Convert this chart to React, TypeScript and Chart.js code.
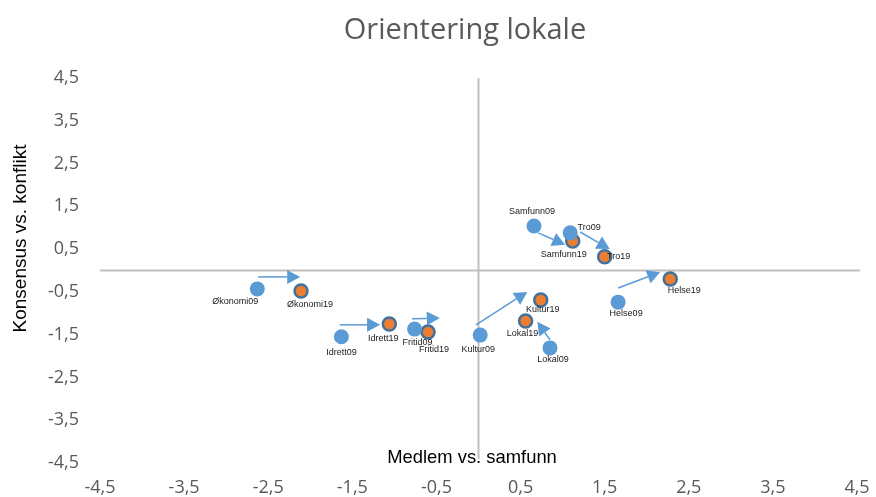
import React, { useEffect, useRef } from 'react';
import { Chart, registerables } from 'chart.js';

Chart.register(...registerables);

const TITLE = 'Orientering lokale';
const X_TITLE = 'Medlem vs. samfunn';
const Y_TITLE = 'Konsensus vs. konflikt';
const TICKS = [-4.5, -3.5, -2.5, -1.5, -0.5, 0.5, 1.5, 2.5, 3.5, 4.5];

const LABELS_09 = ['Økonomi09', 'Idrett09', 'Fritid09', 'Kultur09', 'Lokal09', 'Samfunn09', 'Tro09', 'Helse09'];
const X_09 = [-2.63, -1.63, -0.76, 0.02, 0.85, 0.66, 1.09, 1.66];
const Y_09 = [-0.43, -1.55, -1.37, -1.51, -1.81, 1.04, 0.88, -0.74];

const LABELS_19 = ['Økonomi19', 'Idrett19', 'Fritid19', 'Kultur19', 'Lokal19', 'Samfunn19', 'Tro19', 'Helse19'];
const X_19 = [-2.11, -1.06, -0.6, 0.74, 0.56, 1.12, 1.5, 2.28];
const Y_19 = [-0.48, -1.25, -1.44, -0.69, -1.18, 0.69, 0.32, -0.2];

// arrows (data coordinates): start and end
const ARROW_X0 = [-2.62, -1.65, -0.79, -0.03, 0.85, 0.71, 1.21, 1.66];
const ARROW_Y0 = [-0.15, -1.27, -1.13, -1.27, -1.62, 0.88, 0.9, -0.41];
const ARROW_X1 = [-2.12, -1.17, -0.46, 0.58, 0.7, 1.03, 1.56, 2.16];
const ARROW_Y1 = [-0.15, -1.27, -1.11, -0.5, -1.2, 0.6, 0.5, -0.04];

// label offsets in pixels relative to the marker (styling)
const LABEL_OFF_09: [number, number][] = [[-22, 13], [0, 16], [3, 13], [-2, 14], [3, 12], [-2, -14], [19, -5], [8, 11]];
const LABEL_OFF_19: [number, number][] = [[9, 13], [-6, 15], [6, 17], [2, 9], [-3, 13], [-9, 14], [14, 0], [14, 11]];

const BLUE = '#5B9BD5';
const ORANGE = '#ED7D31';
const DARKBLUE = '#41719C';

const fmt = (v: number) => v.toFixed(1).replace('.', ',');

const overlay = {
  id: 'overlay',
  beforeDatasetsDraw(chart: any) {
    const { ctx, chartArea, scales } = chart;
    const x0 = scales.x.getPixelForValue(0);
    const y0 = scales.y.getPixelForValue(0);
    ctx.save();
    ctx.strokeStyle = '#BFBFBF';
    ctx.lineWidth = 2;
    ctx.beginPath();
    ctx.moveTo(chartArea.left, y0);
    ctx.lineTo(chartArea.right + 3, y0);
    ctx.moveTo(x0, chartArea.top);
    ctx.lineTo(x0, chartArea.bottom - 4);
    ctx.stroke();
    ctx.restore();
  },
  afterDatasetsDraw(chart: any) {
    const { ctx, scales } = chart;
    const xs = scales.x, ys = scales.y;
    ctx.save();
    ctx.strokeStyle = BLUE;
    ctx.fillStyle = BLUE;
    ctx.lineWidth = 1.5;
    for (let i = 0; i < ARROW_X0.length; i++) {
      const ax = xs.getPixelForValue(ARROW_X0[i]);
      const ay = ys.getPixelForValue(ARROW_Y0[i]);
      const bx = xs.getPixelForValue(ARROW_X1[i]);
      const by = ys.getPixelForValue(ARROW_Y1[i]);
      const ang = Math.atan2(by - ay, bx - ax);
      const L = 13, W = 7;
      const baseX = bx - L * Math.cos(ang);
      const baseY = by - L * Math.sin(ang);
      ctx.beginPath();
      ctx.moveTo(ax, ay);
      ctx.lineTo(baseX, baseY);
      ctx.stroke();
      ctx.beginPath();
      ctx.moveTo(bx, by);
      ctx.lineTo(baseX + W * Math.sin(ang), baseY - W * Math.cos(ang));
      ctx.lineTo(baseX - W * Math.sin(ang), baseY + W * Math.cos(ang));
      ctx.closePath();
      ctx.fill();
    }
    ctx.font = '9px "Liberation Sans", Arial, sans-serif';
    ctx.fillStyle = '#1a1a1a';
    ctx.textAlign = 'center';
    ctx.textBaseline = 'middle';
    const drawSet = (labels: string[], xv: number[], yv: number[], off: [number, number][]) => {
      for (let i = 0; i < labels.length; i++) {
        const px = xs.getPixelForValue(xv[i]) + off[i][0];
        const py = ys.getPixelForValue(yv[i]) + off[i][1];
        ctx.fillText(labels[i], px, py);
      }
    };
    drawSet(LABELS_09, X_09, Y_09, LABEL_OFF_09);
    drawSet(LABELS_19, X_19, Y_19, LABEL_OFF_19);
    ctx.restore();
  },
  afterDraw(chart: any) {
    const { ctx } = chart;
    ctx.save();
    ctx.fillStyle = '#595959';
    ctx.font = '29px "Open Sans", sans-serif';
    ctx.textAlign = 'center';
    ctx.textBaseline = 'alphabetic';
    ctx.fillText(TITLE, 465, 39);

    ctx.fillStyle = '#000000';
    ctx.font = '18.4px "Liberation Sans", Arial, sans-serif';
    ctx.fillText(X_TITLE, 472, 463);

    ctx.translate(26, 238.5);
    ctx.rotate(-Math.PI / 2);
    ctx.font = '19px "Liberation Sans", Arial, sans-serif';
    ctx.textBaseline = 'alphabetic';
    ctx.fillText(Y_TITLE, 0, 0);
    ctx.restore();
  },
};

export default function App() {
  const ref = useRef<HTMLCanvasElement | null>(null);
  useEffect(() => {
    if (!ref.current) return;
    const tickFont = { family: '"Open Sans", sans-serif', size: 18 };
    const chart = new Chart(ref.current, {
      type: 'scatter',
      data: {
        datasets: [
          {
            label: '09',
            data: X_09.map((x, i) => ({ x, y: Y_09[i] })),
            backgroundColor: BLUE,
            borderColor: BLUE,
            borderWidth: 0,
            pointRadius: 7.5,
          },
          {
            label: '19',
            data: X_19.map((x, i) => ({ x, y: Y_19[i] })),
            backgroundColor: ORANGE,
            borderColor: DARKBLUE,
            borderWidth: 2.5,
            pointRadius: 6.5,
          },
        ],
      },
      options: {
        responsive: false,
        animation: false,
        layout: { autoPadding: false, padding: { top: 78, right: 19, left: 0, bottom: 0 } },
        plugins: { legend: { display: false }, tooltip: { enabled: false }, title: { display: false } },
        scales: {
          x: {
            type: 'linear',
            position: 'bottom',
            min: -4.5,
            max: 4.5,
            afterBuildTicks: (s: any) => { s.ticks = TICKS.map((v) => ({ value: v })); },
            afterFit: (s: any) => { s.height = 34; s.paddingLeft = 0; s.paddingRight = 0; s.paddingTop = 0; s.paddingBottom = 0; },
            grid: { display: false, drawTicks: false },
            border: { display: false },
            ticks: { callback: (v: any) => fmt(Number(v)), color: '#595959', font: tickFont, padding: 14, autoSkip: false, maxRotation: 0 },
          },
          y: {
            type: 'linear',
            position: 'left',
            min: -4.5,
            max: 4.5,
            afterBuildTicks: (s: any) => { s.ticks = TICKS.map((v) => ({ value: v })); },
            afterFit: (s: any) => { s.width = 100; s.paddingLeft = 0; s.paddingRight = 0; s.paddingTop = 0; s.paddingBottom = 0; },
            grid: { display: false, drawTicks: false },
            border: { display: false },
            ticks: { callback: (v: any) => fmt(Number(v)), color: '#595959', font: tickFont, padding: 21, autoSkip: false },
          },
        },
      } as any,
      plugins: [overlay],
    });
    return () => chart.destroy();
  }, []);
  return (
    <div style={{ position: 'fixed', left: 0, top: 0, width: 876, height: 497, background: '#fff' }}>
      <canvas ref={ref} width={876} height={497} />
    </div>
  );
}
